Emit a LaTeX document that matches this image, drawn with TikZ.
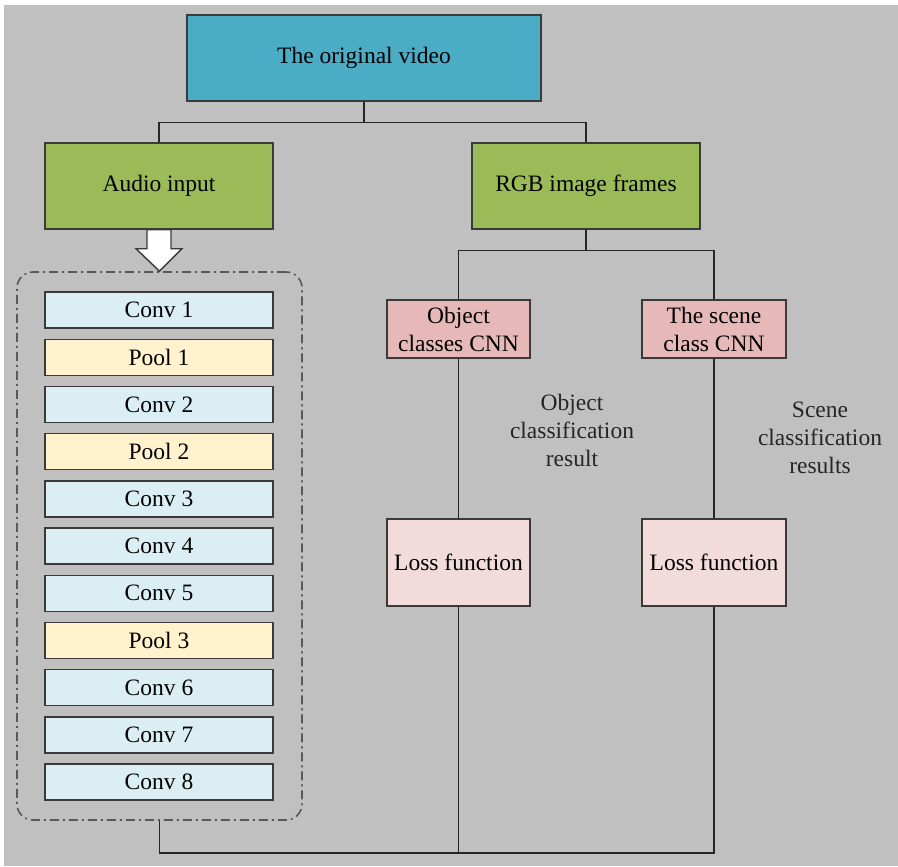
\documentclass[tikz,border=0pt]{standalone}
\usepackage{fontspec}
\setmainfont{Liberation Serif}
\usepackage{xcolor}
\definecolor{PageGray}{HTML}{C0C0C0}
\definecolor{EdgeGray}{HTML}{3A3A3A}
\definecolor{LineDark}{HTML}{262626}
\definecolor{VideoBlue}{HTML}{4BACC6}
\definecolor{InputGreen}{HTML}{9BBB59}
\definecolor{ConvBlue}{HTML}{DAEEF3}
\definecolor{PoolYellow}{HTML}{FFF2CC}
\definecolor{CnnPink}{HTML}{E6B9B8}
\definecolor{LossPink}{HTML}{F2DCDB}
\definecolor{DashGray}{HTML}{595959}
\usepackage{tikz}
\usetikzlibrary{calc}

\begin{document}
\begin{tikzpicture}[x=1pt, y=-1pt,
  font=\fontsize{23.5}{28}\selectfont,
  box/.style={draw=EdgeGray, line width=1.4pt, inner sep=0pt, align=center},
  layer/.style={box, minimum width=228pt, minimum height=36pt},
  wire/.style={draw=LineDark, line width=1.4pt}]
  % Page and background (pixel grid, y pointing down)
  \useasboundingbox (0,0) rectangle (898,867);
  \fill[white] (0,0) rectangle (898,867);
  \fill[PageGray] (4,5) rectangle (898,866);

  % Top level
  \node[box, fill=VideoBlue, minimum width=354pt, minimum height=86pt]
    (Video) at (364,58) {The original video};
  \node[box, fill=InputGreen, minimum width=228pt, minimum height=86pt]
    (Audio) at (159,186) {Audio input};
  \node[box, fill=InputGreen, minimum width=228pt, minimum height=86pt]
    (RGB) at (586,186) {RGB image frames};

  % Audio network layers
  \node[draw=DashGray, line width=1.6pt, rounded corners=16pt,
        dash pattern=on 9pt off 4pt on 2pt off 4pt,
        minimum width=285pt, minimum height=548pt, inner sep=0pt]
    (Group) at (159.5,546) {};
  \foreach \name/\kind [count=\i from 0] in
    {Conv 1/ConvBlue, Pool 1/PoolYellow, Conv 2/ConvBlue, Pool 2/PoolYellow,
     Conv 3/ConvBlue, Conv 4/ConvBlue, Conv 5/ConvBlue, Pool 3/PoolYellow,
     Conv 6/ConvBlue, Conv 7/ConvBlue, Conv 8/ConvBlue}
    \node[layer, fill=\kind] (L\i) at (159,{310+47.2*\i}) {\name};

  % Hollow arrow from audio input into the layer stack
  \draw[EdgeGray, line width=1.4pt, fill=white, line join=miter]
    ([xshift=-12pt]Audio.south) -- ++(0,19) -- ++(-11,0) -- (Group.north)
    -- ($([xshift=23pt]Audio.south)+(0,19)$) -- ++(-11,0)
    -- ([xshift=12pt]Audio.south) -- cycle;

  % Image branch
  \node[box, fill=CnnPink, minimum width=143pt, minimum height=58pt]
    (ObjCNN) at (458.5,329) {Object\\classes CNN};
  \node[box, fill=CnnPink, minimum width=144pt, minimum height=58pt]
    (SceneCNN) at (714,329) {The scene\\class CNN};
  \node[box, fill=LossPink, minimum width=143pt, minimum height=87pt]
    (ObjLoss) at (458.5,562.5) {Loss function};
  \node[box, fill=LossPink, minimum width=144pt, minimum height=87pt]
    (SceneLoss) at (714,562.5) {Loss function};
  \node[align=center, text=LineDark] (ObjRes) at (572,430)
    {Object\\classification\\result};
  \node[align=center, text=LineDark] (SceneRes) at (820,438)
    {Scene\\classification\\results};

  % Connectors
  \draw[wire] (Video.south) -- ++(0,21) -| (Audio.north);
  \draw[wire] (Video.south) -- ++(0,21) -| (RGB.north);
  \draw[wire] (RGB.south) -- ++(0,21) -| (ObjCNN.north);
  \draw[wire] (RGB.south) -- ++(0,21) -| (SceneCNN.north);
  \draw[wire] (ObjCNN.south) -- (ObjLoss.north);
  \draw[wire] (SceneCNN.south) -- (SceneLoss.north);
  \coordinate (Bot) at ($(Group.south)+(0,32)$);
  \draw[wire] (Group.south) -- (Bot) -| (SceneLoss.south);
  \draw[wire] (ObjLoss.south) -- (ObjLoss.south |- Bot);
\end{tikzpicture}
\end{document}
